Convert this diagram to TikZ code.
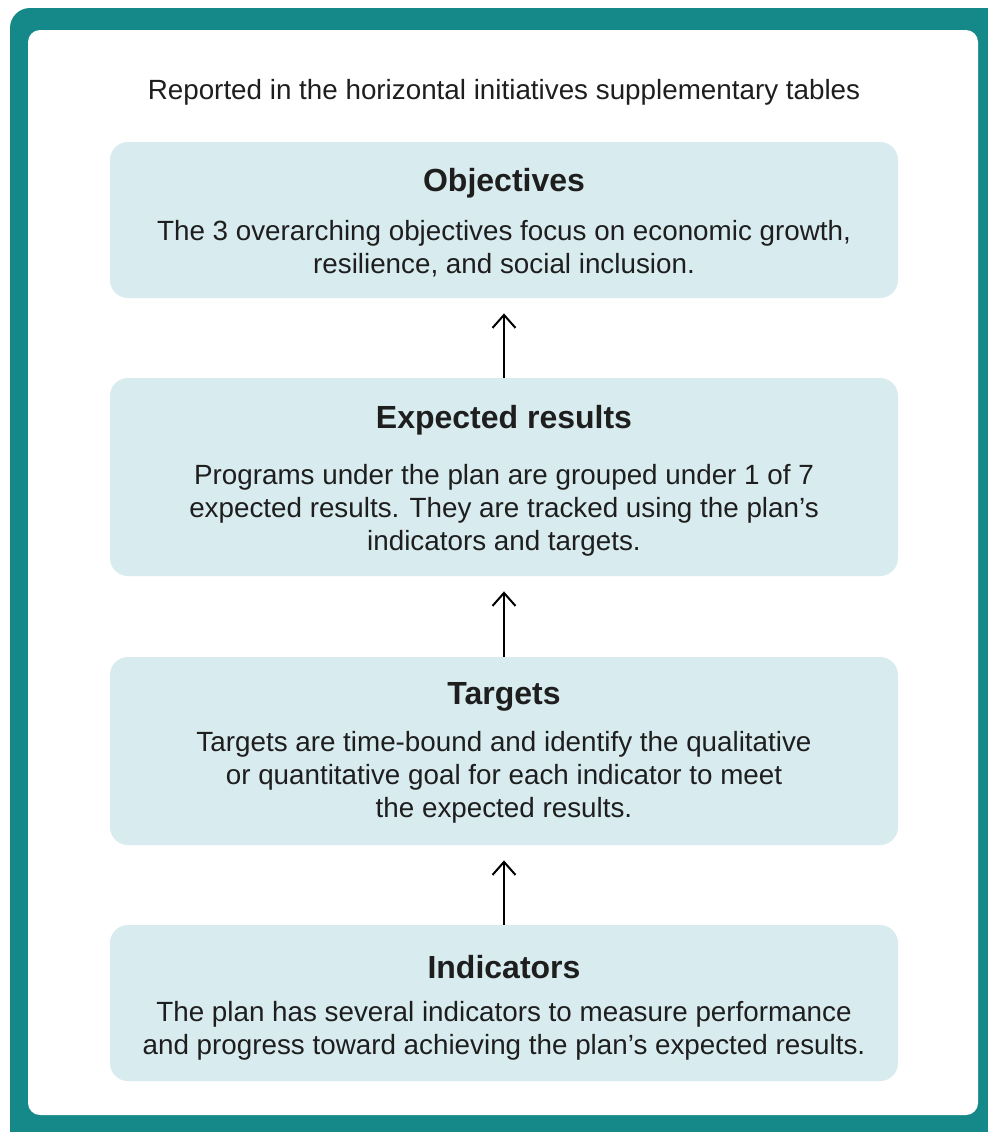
\documentclass[tikz,border=0pt]{standalone}
\usepackage{fontspec}
\setmainfont{Liberation Sans}
\usetikzlibrary{arrows.meta, positioning}
\definecolor{frameteal}{RGB}{21,137,137}
\definecolor{boxblue}{RGB}{216,235,238}
\definecolor{inkgray}{RGB}{30,30,30}

\begin{document}
\begin{tikzpicture}[x=0.5pt, y=-0.5pt,
  box/.style={fill=boxblue, rounded corners=9pt, minimum width=394pt, inner sep=0pt},
  head/.style={font=\fontsize{16}{19}\selectfont\bfseries, text=inkgray, inner sep=0pt},
  body/.style={font=\fontsize{13.9}{16.5}\selectfont, text=inkgray, align=center, inner sep=0pt},
  uparrow/.style={-{Straight Barb[length=6.5pt, width=11.5pt]}, line width=1pt, shorten >=7.5pt}]
\clip (0,0) rectangle (988,1132);
\fill[frameteal, rounded corners=10pt] (10,8) rectangle (1030,1170);
\fill[white, rounded corners=6pt] (28,30) rectangle (978,1115);

\node[body] (top) at (504,92) {Reported in the horizontal initiatives supplementary tables};

\node[box, minimum height=78pt] (obj) at (504,220) {};
\node[head] (objT) at (504,183) {Objectives};
\node[body] (objB) at (504,249) {The 3 overarching objectives focus on economic growth,\\resilience, and social inclusion.};

\node[box, minimum height=99pt] (res) at (504,477) {};
\node[head] (resT) at (504,420) {Expected results};
\node[body] (resB) at (504,510) {Programs under the plan are grouped under 1 of 7\\expected results. They are tracked using the plan’s\\indicators and targets.};

\node[box, minimum height=94pt] (tgt) at (504,751) {};
\node[head] (tgtT) at (504,697) {Targets};
\node[body] (tgtB) at (504,777) {Targets are time-bound and identify the qualitative\\or quantitative goal for each indicator to meet\\the expected results.};

\node[box, minimum height=78pt] (ind) at (504,1003) {};
\node[head] (indT) at (504,967) {Indicators};
\node[body] (indB) at (504,1031) {The plan has several indicators to measure performance\\and progress toward achieving the plan’s expected results.};

\draw[uparrow] (res.north) -- (obj.south);
\draw[uparrow] (tgt.north) -- (res.south);
\draw[uparrow] (ind.north) -- (tgt.south);
\end{tikzpicture}
\end{document}
